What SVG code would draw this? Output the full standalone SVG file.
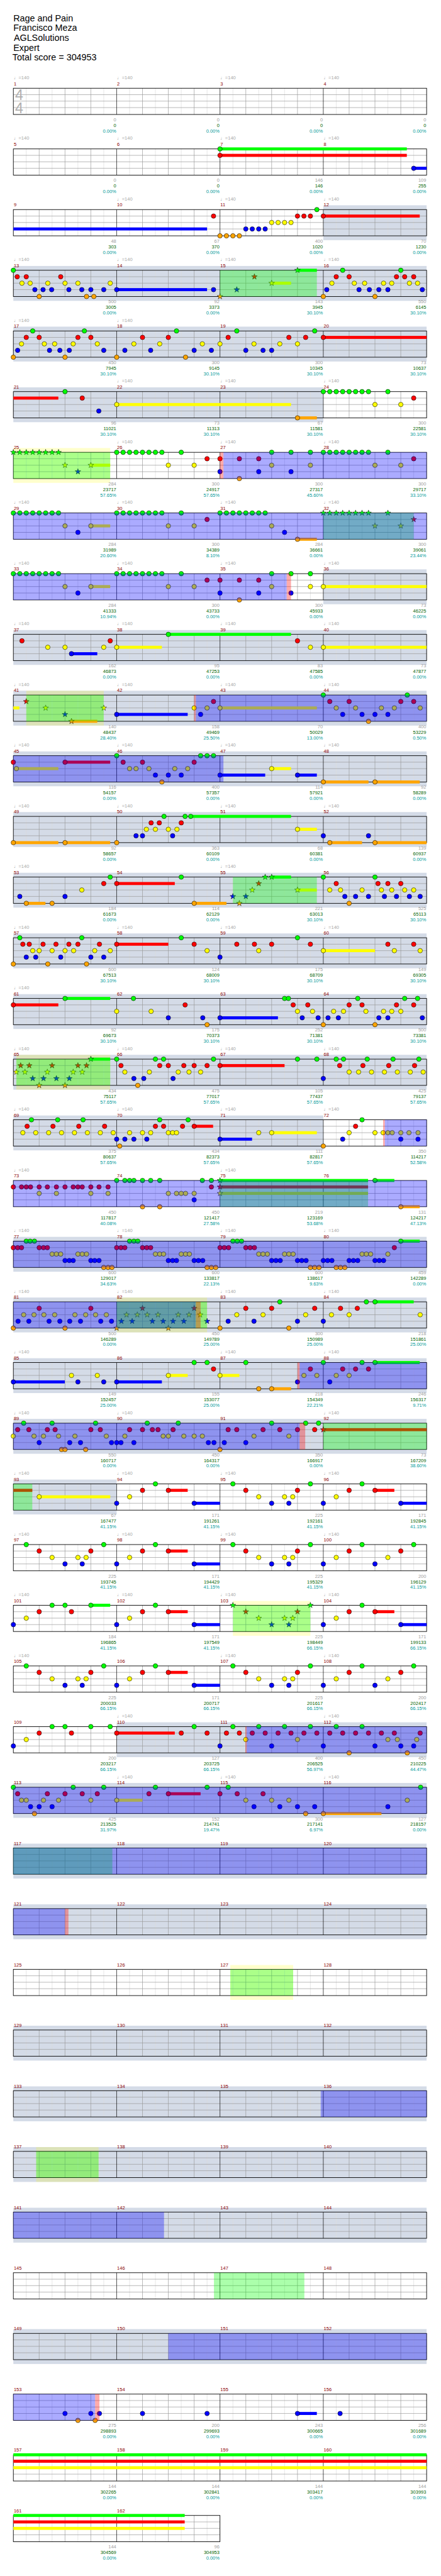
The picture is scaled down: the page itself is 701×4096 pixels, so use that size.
<svg xmlns="http://www.w3.org/2000/svg" width="701" height="4096" viewBox="0 0 701 4096">
<style>
text{font-family:"Liberation Sans","DejaVu Sans",Arial,sans-serif;font-size:11px}
.ti{font-size:21px;fill:#000}
.mn{fill:#8b0000}
.tp{fill:#a8a8a8}
.v{fill:#a0a0a0;text-anchor:end}
.s{fill:#006400;text-anchor:end}
.p{fill:#009a9a;text-anchor:end}
.ts{font-size:34px;fill:#b0b0b0}
.gr{fill:#d4dbe7}
.yl{fill:#ffff00;opacity:.2}
.og{fill:#00ff00;opacity:.33}
.ob{fill:#0000ff;opacity:.33}
.op{fill:#ff0000;opacity:.33}
.fG{fill:#00ff00}.fR{fill:#ff0000}.fY{fill:#ffff00}.fB{fill:#0000ff}.fO{fill:#ffa500}
</style>
<defs>
<circle id="G" r="5.3" cy="0" fill="#00ff00" stroke="#000" stroke-width="0.8"/>
<circle id="R" r="5.3" cy="15" fill="#ff0000" stroke="#000" stroke-width="0.8"/>
<circle id="Y" r="5.3" cy="30" fill="#ffff00" stroke="#000" stroke-width="0.8"/>
<circle id="B" r="5.3" cy="45" fill="#0000ff" stroke="#000" stroke-width="0.8"/>
<circle id="O" r="5.3" cy="61" fill="#ffa500" stroke="#000" stroke-width="0.8"/>
<polygon id="sG" transform="translate(0,0)" points="0,-7 1.65,-2.27 6.66,-2.16 2.66,0.87 4.11,5.66 0,2.8 -4.11,5.66 -2.66,0.87 -6.66,-2.16 -1.65,-2.27" fill="#00ff00" stroke="#000" stroke-width="0.7"/>
<polygon id="sR" transform="translate(0,15)" points="0,-7 1.65,-2.27 6.66,-2.16 2.66,0.87 4.11,5.66 0,2.8 -4.11,5.66 -2.66,0.87 -6.66,-2.16 -1.65,-2.27" fill="#ff0000" stroke="#000" stroke-width="0.7"/>
<polygon id="sY" transform="translate(0,30)" points="0,-7 1.65,-2.27 6.66,-2.16 2.66,0.87 4.11,5.66 0,2.8 -4.11,5.66 -2.66,0.87 -6.66,-2.16 -1.65,-2.27" fill="#ffff00" stroke="#000" stroke-width="0.7"/>
<polygon id="sB" transform="translate(0,45)" points="0,-7 1.65,-2.27 6.66,-2.16 2.66,0.87 4.11,5.66 0,2.8 -4.11,5.66 -2.66,0.87 -6.66,-2.16 -1.65,-2.27" fill="#0000ff" stroke="#000" stroke-width="0.7"/>
<polygon id="sO" transform="translate(0,61)" points="0,-7 1.65,-2.27 6.66,-2.16 2.66,0.87 4.11,5.66 0,2.8 -4.11,5.66 -2.66,0.87 -6.66,-2.16 -1.65,-2.27" fill="#ffa500" stroke="#000" stroke-width="0.7"/>
<g id="grid4" fill="none">
<path d="M30 0V61M90 0V61M150 0V61M210 0V61M270 0V61M330 0V61M390 0V61M450 0V61M510 0V61M570 0V61M630 0V61M690 0V61M750 0V61M810 0V61M870 0V61M930 0V61" stroke="#dcdcdc"/>
<path d="M0 15H960M0 30H960M0 45H960M60 0V61M120 0V61M180 0V61M300 0V61M360 0V61M420 0V61M540 0V61M600 0V61M660 0V61M780 0V61M840 0V61M900 0V61" stroke="#999"/>
<path d="M240 0V61M480 0V61M720 0V61" stroke="#000"/>
<rect width="960" height="61" stroke="#000" stroke-width="1.3"/>
</g>
<g id="grid2" fill="none">
<path d="M30 0V61M90 0V61M150 0V61M210 0V61M270 0V61M330 0V61M390 0V61M450 0V61" stroke="#dcdcdc"/>
<path d="M0 15H480M0 30H480M0 45H480M60 0V61M120 0V61M180 0V61M300 0V61M360 0V61M420 0V61" stroke="#999"/>
<path d="M240 0V61" stroke="#000"/>
<rect width="480" height="61" stroke="#000" stroke-width="1.3"/>
</g>
</defs>
<rect width="701" height="4096" fill="#fff"/>
<g transform="scale(0.6843)">
<g id="header">
<text class="ti" x="31" y="49">Rage and Pain</text>
<text class="ti" x="31" y="72">Francisco Meza</text>
<text class="ti" x="32" y="95">AGLSolutions</text>
<text class="ti" x="31" y="118">Expert</text>
<text class="ti" x="29" y="141">Total score = 304953</text>
</g>

<g id="row00" transform="translate(31,205)">
<use href="#grid4"/>
<text class="ts" x="4" y="28">4</text><text class="ts" x="4" y="58">4</text>
<text class="tp" x="1" y="-21">♩=140</text><text class="tp" x="241" y="-21">♩=140</text><text class="tp" x="481" y="-21">♩=140</text><text class="tp" x="721" y="-21">♩=140</text>
<text class="mn" x="1" y="-7">1</text><text class="mn" x="241" y="-7">2</text><text class="mn" x="481" y="-7">3</text><text class="mn" x="721" y="-7">4</text>
<text class="v" x="239" y="77">0</text><text class="s" x="239" y="90">0</text><text class="p" x="239" y="103">0.00%</text>
<text class="v" x="479" y="77">0</text><text class="s" x="479" y="90">0</text><text class="p" x="479" y="103">0.00%</text>
<text class="v" x="719" y="77">0</text><text class="s" x="719" y="90">0</text><text class="p" x="719" y="103">0.00%</text>
<text class="v" x="959" y="77">0</text><text class="s" x="959" y="90">0</text><text class="p" x="959" y="103">0.00%</text>
</g>

<g id="row01" transform="translate(31,346)">
<use href="#grid4"/>
<rect class="fG" x="480" y="-3.5" width="434" height="7"/><rect class="fR" x="480" y="11.5" width="434" height="7"/><rect class="fB" x="930" y="41.5" width="30" height="7"/>
<use href="#G" x="480"/><use href="#R" x="480"/><use href="#B" x="930"/>
<text class="tp" x="1" y="-21">♩=140</text><text class="tp" x="241" y="-21">♩=140</text><text class="tp" x="481" y="-21">♩=140</text><text class="tp" x="721" y="-21">♩=140</text>
<text class="mn" x="1" y="-7">5</text><text class="mn" x="241" y="-7">6</text><text class="mn" x="481" y="-7">7</text><text class="mn" x="721" y="-7">8</text>
<text class="v" x="239" y="77">0</text><text class="s" x="239" y="90">0</text><text class="p" x="239" y="103">0.00%</text>
<text class="v" x="479" y="77">0</text><text class="s" x="479" y="90">0</text><text class="p" x="479" y="103">0.00%</text>
<text class="v" x="719" y="77">146</text><text class="s" x="719" y="90">146</text><text class="p" x="719" y="103">0.00%</text>
<text class="v" x="959" y="77">109</text><text class="s" x="959" y="90">255</text><text class="p" x="959" y="103">0.00%</text>
</g>

<g id="row02" transform="translate(31,487)">
<rect class="gr" x="720" y="-10" width="240" height="81"/>
<use href="#grid4"/>
<rect class="fB" x="0" y="41.5" width="450" height="7"/><rect class="fR" x="720" y="11.5" width="224" height="7"/>
<use href="#R" x="465"/><use href="#O" x="480"/><use href="#O" x="495"/><use href="#O" x="510"/><use href="#O" x="525"/><use href="#B" x="540"/><use href="#B" x="555"/><use href="#B" x="570"/><use href="#B" x="585"/><use href="#Y" x="600"/><use href="#Y" x="615"/><use href="#Y" x="630"/><use href="#Y" x="645"/><use href="#R" x="660"/><use href="#R" x="675"/><use href="#R" x="690"/><use href="#G" x="705"/><use href="#R" x="720"/>
<text class="tp" x="241" y="-21">♩=140</text><text class="tp" x="481" y="-21">♩=140</text><text class="tp" x="721" y="-21">♩=140</text>
<text class="mn" x="1" y="-7">9</text><text class="mn" x="241" y="-7">10</text><text class="mn" x="481" y="-7">11</text><text class="mn" x="721" y="-7">12</text>
<text class="v" x="239" y="77">48</text><text class="s" x="239" y="90">303</text><text class="p" x="239" y="103">0.00%</text>
<text class="v" x="479" y="77">67</text><text class="s" x="479" y="90">370</text><text class="p" x="479" y="103">0.00%</text>
<text class="v" x="719" y="77">400</text><text class="s" x="719" y="90">1020</text><text class="p" x="719" y="103">0.00%</text>
<text class="v" x="959" y="77">70</text><text class="s" x="959" y="90">1230</text><text class="p" x="959" y="103">0.00%</text>
</g>

<g id="row03" transform="translate(31,628)">
<rect class="gr" x="0" y="-10" width="960" height="81"/>
<use href="#grid4"/>
<rect class="fB" x="240" y="41.5" width="210" height="7"/><rect class="fY" x="600" y="26.5" width="45" height="7"/><rect class="fG" x="660" y="-3.5" width="45" height="7"/>
<use href="#G" x="0"/><use href="#R" x="9"/><use href="#Y" x="20"/><use href="#R" x="30"/><use href="#Y" x="39"/><use href="#B" x="50"/><use href="#O" x="60"/><use href="#B" x="69"/><use href="#Y" x="80"/><use href="#B" x="89"/><use href="#R" x="110"/><use href="#Y" x="120"/><use href="#B" x="129"/><use href="#Y" x="150"/><use href="#B" x="159"/><use href="#O" x="170"/><use href="#B" x="180"/><use href="#O" x="187"/><use href="#B" x="210"/><use href="#Y" x="225"/><use href="#B" x="240"/><use href="#B" x="465"/>
<use href="#sO" x="480"/><use href="#sB" x="519"/><use href="#sR" x="560"/><use href="#sY" x="600"/><use href="#sG" x="660"/>
<use href="#O" x="720"/><use href="#B" x="728"/><use href="#Y" x="740"/><use href="#R" x="750"/><use href="#G" x="765"/><use href="#R" x="780"/><use href="#Y" x="792"/><use href="#B" x="803"/><use href="#Y" x="816"/><use href="#B" x="827"/><use href="#O" x="840"/><use href="#B" x="849"/><use href="#Y" x="860"/><use href="#B" x="870"/><use href="#Y" x="879"/><use href="#R" x="890"/><use href="#G" x="900"/><use href="#R" x="909"/><use href="#Y" x="920"/><use href="#R" x="930"/><use href="#Y" x="939"/><use href="#B" x="950"/>
<rect class="og" x="480" y="0" width="225" height="61"/>
<text class="tp" x="1" y="-21">♩=140</text><text class="tp" x="241" y="-21">♩=140</text><text class="tp" x="481" y="-21">♩=140</text><text class="tp" x="721" y="-21">♩=140</text>
<text class="mn" x="1" y="-7">13</text><text class="mn" x="241" y="-7">14</text><text class="mn" x="481" y="-7">15</text><text class="mn" x="721" y="-7">16</text>
<text class="v" x="239" y="77">500</text><text class="s" x="239" y="90">3005</text><text class="p" x="239" y="103">0.00%</text>
<text class="v" x="479" y="77">92</text><text class="s" x="479" y="90">3373</text><text class="p" x="479" y="103">0.00%</text>
<text class="v" x="719" y="77">143</text><text class="s" x="719" y="90">3945</text><text class="p" x="719" y="103">30.10%</text>
<text class="v" x="959" y="77">550</text><text class="s" x="959" y="90">6145</text><text class="p" x="959" y="103">30.10%</text>
</g>

<g id="row04" transform="translate(31,769)">
<rect class="gr" x="0" y="-10" width="960" height="81"/>
<use href="#grid4"/>
<rect class="fR" x="720" y="11.5" width="240" height="7"/>
<use href="#O" x="0"/><use href="#B" x="10"/><use href="#Y" x="19"/><use href="#R" x="30"/><use href="#G" x="45"/><use href="#R" x="60"/><use href="#Y" x="72"/><use href="#B" x="84"/><use href="#Y" x="96"/><use href="#B" x="108"/><use href="#O" x="120"/><use href="#B" x="130"/><use href="#Y" x="139"/><use href="#R" x="150"/><use href="#G" x="165"/><use href="#R" x="180"/><use href="#Y" x="195"/><use href="#B" x="210"/><use href="#O" x="240"/><use href="#B" x="259"/><use href="#Y" x="280"/><use href="#R" x="300"/><use href="#B" x="319"/><use href="#Y" x="340"/><use href="#R" x="360"/><use href="#G" x="379"/><use href="#O" x="400"/><use href="#B" x="420"/><use href="#Y" x="439"/><use href="#B" x="460"/><use href="#Y" x="480"/><use href="#R" x="499"/><use href="#G" x="519"/><use href="#B" x="540"/><use href="#Y" x="559"/><use href="#B" x="580"/><use href="#B" x="600"/><use href="#Y" x="619"/><use href="#R" x="640"/><use href="#Y" x="660"/><use href="#R" x="679"/><use href="#G" x="700"/><use href="#R" x="720"/>
<text class="tp" x="1" y="-21">♩=140</text><text class="tp" x="241" y="-21">♩=140</text>
<text class="mn" x="1" y="-7">17</text><text class="mn" x="241" y="-7">18</text><text class="mn" x="481" y="-7">19</text><text class="mn" x="721" y="-7">20</text>
<text class="v" x="239" y="77">450</text><text class="s" x="239" y="90">7945</text><text class="p" x="239" y="103">30.10%</text>
<text class="v" x="479" y="77">300</text><text class="s" x="479" y="90">9145</text><text class="p" x="479" y="103">30.10%</text>
<text class="v" x="719" y="77">300</text><text class="s" x="719" y="90">10345</text><text class="p" x="719" y="103">30.10%</text>
<text class="v" x="959" y="77">73</text><text class="s" x="959" y="90">10637</text><text class="p" x="959" y="103">30.10%</text>
</g>

<g id="row05" transform="translate(31,910)">
<rect class="gr" x="0" y="-10" width="720" height="81"/>
<use href="#grid4"/>
<rect class="fR" x="0" y="11.5" width="104.5" height="7"/><rect class="fY" x="240" y="26.5" width="405" height="7"/><rect class="fO" x="660" y="57.5" width="45" height="7"/>
<use href="#G" x="120"/><use href="#R" x="160"/><use href="#B" x="198.5"/><use href="#Y" x="240"/><use href="#O" x="660"/><use href="#G" x="720"/><use href="#G" x="735"/><use href="#G" x="750"/><use href="#G" x="765"/><use href="#G" x="780"/><use href="#G" x="795"/><use href="#G" x="810"/><use href="#G" x="825"/><use href="#Y" x="840"/><use href="#G" x="870"/><use href="#Y" x="900"/><use href="#R" x="930"/>
<text class="tp" x="241" y="-21">♩=140</text><text class="tp" x="481" y="-21">♩=140</text><text class="tp" x="721" y="-21">♩=140</text>
<text class="mn" x="1" y="-7">21</text><text class="mn" x="241" y="-7">22</text><text class="mn" x="481" y="-7">23</text><text class="mn" x="721" y="-7">24</text>
<text class="v" x="239" y="77">96</text><text class="s" x="239" y="90">11021</text><text class="p" x="239" y="103">30.10%</text>
<text class="v" x="479" y="77">73</text><text class="s" x="479" y="90">11313</text><text class="p" x="479" y="103">30.10%</text>
<text class="v" x="719" y="77">67</text><text class="s" x="719" y="90">11581</text><text class="p" x="719" y="103">30.10%</text>
<text class="v" x="959" y="77">300</text><text class="s" x="959" y="90">22581</text><text class="p" x="959" y="103">30.10%</text>
</g>

<g id="row06" transform="translate(31,1051)">
<rect class="yl" x="0" y="-10" width="225" height="81"/>
<use href="#grid4"/>
<rect class="fY" x="180" y="26.5" width="45" height="7"/>
<use href="#sG" x="0"/><use href="#sG" x="15"/><use href="#sG" x="30"/><use href="#sG" x="45"/><use href="#sG" x="60"/><use href="#sG" x="75"/><use href="#sG" x="90"/><use href="#sG" x="105"/><use href="#sY" x="120"/><use href="#sB" x="150"/><use href="#sY" x="180"/>
<use href="#G" x="240"/><use href="#G" x="255"/><use href="#G" x="270"/><use href="#G" x="285"/><use href="#G" x="300"/><use href="#G" x="315"/><use href="#G" x="330"/><use href="#G" x="345"/><use href="#Y" x="360"/><use href="#G" x="390"/><use href="#Y" x="420"/><use href="#R" x="450"/><use href="#R" x="480"/><use href="#B" x="480"/><use href="#R" x="525"/><use href="#O" x="525"/><use href="#R" x="570"/><use href="#B" x="570"/><use href="#G" x="600"/><use href="#Y" x="600"/><use href="#G" x="645"/><use href="#B" x="645"/><use href="#G" x="690"/><use href="#Y" x="690"/><use href="#G" x="720"/><use href="#G" x="735"/><use href="#G" x="750"/><use href="#G" x="765"/><use href="#G" x="780"/><use href="#G" x="795"/><use href="#G" x="810"/><use href="#G" x="825"/><use href="#Y" x="840"/><use href="#G" x="870"/><use href="#Y" x="900"/><use href="#R" x="930"/>
<rect class="og" x="0" y="0" width="225" height="61"/><rect class="op" x="480" y="0" width="8" height="61"/><rect class="ob" x="488" y="0" width="472" height="61"/>
<text class="tp" x="241" y="-21">♩=140</text><text class="tp" x="481" y="-21">♩=140</text><text class="tp" x="721" y="-21">♩=140</text>
<text class="mn" x="1" y="-7">25</text><text class="mn" x="241" y="-7">26</text><text class="mn" x="481" y="-7">27</text><text class="mn" x="721" y="-7">28</text>
<text class="v" x="239" y="77">284</text><text class="s" x="239" y="90">23717</text><text class="p" x="239" y="103">57.65%</text>
<text class="v" x="479" y="77">300</text><text class="s" x="479" y="90">24917</text><text class="p" x="479" y="103">57.65%</text>
<text class="v" x="719" y="77">300</text><text class="s" x="719" y="90">27317</text><text class="p" x="719" y="103">45.60%</text>
<text class="v" x="959" y="77">300</text><text class="s" x="959" y="90">29717</text><text class="p" x="959" y="103">33.10%</text>
</g>

<g id="row07" transform="translate(31,1192)">
<use href="#grid4"/>
<rect class="fY" x="180" y="26.5" width="45" height="7"/><rect class="fO" x="660" y="57.5" width="45" height="7"/>
<use href="#G" x="0"/><use href="#G" x="15"/><use href="#G" x="30"/><use href="#G" x="45"/><use href="#G" x="60"/><use href="#G" x="75"/><use href="#G" x="90"/><use href="#G" x="105"/><use href="#Y" x="120"/><use href="#B" x="150"/><use href="#Y" x="180"/><use href="#G" x="240"/><use href="#G" x="255"/><use href="#G" x="270"/><use href="#G" x="285"/><use href="#G" x="300"/><use href="#G" x="315"/><use href="#G" x="330"/><use href="#G" x="345"/><use href="#Y" x="360"/><use href="#G" x="390"/><use href="#Y" x="420"/><use href="#R" x="450"/><use href="#G" x="480"/><use href="#G" x="495"/><use href="#G" x="510"/><use href="#G" x="525"/><use href="#G" x="540"/><use href="#G" x="555"/><use href="#G" x="570"/><use href="#G" x="585"/><use href="#Y" x="600"/><use href="#B" x="630"/><use href="#O" x="660"/>
<use href="#sG" x="720"/><use href="#sG" x="735"/><use href="#sG" x="750"/><use href="#sG" x="765"/><use href="#sG" x="780"/><use href="#sG" x="795"/><use href="#sG" x="810"/><use href="#sG" x="825"/><use href="#sY" x="840"/><use href="#sG" x="870"/><use href="#sY" x="900"/><use href="#sR" x="930"/>
<rect class="og" x="720" y="0" width="210" height="61"/><rect class="ob" x="0" y="0" width="960" height="61"/>
<text class="tp" x="1" y="-21">♩=140</text><text class="tp" x="241" y="-21">♩=140</text><text class="tp" x="481" y="-21">♩=140</text><text class="tp" x="721" y="-21">♩=140</text>
<text class="mn" x="1" y="-7">29</text><text class="mn" x="241" y="-7">30</text><text class="mn" x="481" y="-7">31</text><text class="mn" x="721" y="-7">32</text>
<text class="v" x="239" y="77">284</text><text class="s" x="239" y="90">31989</text><text class="p" x="239" y="103">20.60%</text>
<text class="v" x="479" y="77">300</text><text class="s" x="479" y="90">34389</text><text class="p" x="479" y="103">8.10%</text>
<text class="v" x="719" y="77">284</text><text class="s" x="719" y="90">36661</text><text class="p" x="719" y="103">0.00%</text>
<text class="v" x="959" y="77">300</text><text class="s" x="959" y="90">39061</text><text class="p" x="959" y="103">23.44%</text>
</g>

<g id="row08" transform="translate(31,1333)">
<rect class="gr" x="720" y="-10" width="240" height="81"/>
<use href="#grid4"/>
<rect class="fY" x="180" y="26.5" width="45" height="7"/><rect class="fY" x="720" y="26.5" width="240" height="7"/>
<use href="#G" x="0"/><use href="#G" x="15"/><use href="#G" x="30"/><use href="#G" x="45"/><use href="#G" x="60"/><use href="#G" x="75"/><use href="#G" x="90"/><use href="#G" x="105"/><use href="#Y" x="120"/><use href="#B" x="150"/><use href="#Y" x="180"/><use href="#G" x="240"/><use href="#G" x="255"/><use href="#G" x="270"/><use href="#G" x="285"/><use href="#G" x="300"/><use href="#G" x="315"/><use href="#G" x="330"/><use href="#G" x="345"/><use href="#Y" x="360"/><use href="#G" x="390"/><use href="#Y" x="420"/><use href="#R" x="450"/><use href="#R" x="480"/><use href="#B" x="480"/><use href="#R" x="525"/><use href="#O" x="525"/><use href="#R" x="570"/><use href="#B" x="570"/><use href="#G" x="600"/><use href="#Y" x="600"/><use href="#G" x="645"/><use href="#B" x="645"/><use href="#G" x="690"/><use href="#Y" x="690"/><use href="#Y" x="720"/>
<rect class="ob" x="0" y="0" width="635" height="61"/><rect class="op" x="635" y="0" width="10" height="61"/>
<text class="tp" x="1" y="-21">♩=140</text><text class="tp" x="241" y="-21">♩=140</text><text class="tp" x="481" y="-21">♩=140</text><text class="tp" x="721" y="-21">♩=140</text>
<text class="mn" x="1" y="-7">33</text><text class="mn" x="241" y="-7">34</text><text class="mn" x="481" y="-7">35</text><text class="mn" x="721" y="-7">36</text>
<text class="v" x="239" y="77">284</text><text class="s" x="239" y="90">41333</text><text class="p" x="239" y="103">10.94%</text>
<text class="v" x="479" y="77">300</text><text class="s" x="479" y="90">43733</text><text class="p" x="479" y="103">0.00%</text>
<text class="v" x="719" y="77">300</text><text class="s" x="719" y="90">45933</text><text class="p" x="719" y="103">0.00%</text>
<text class="v" x="959" y="77">73</text><text class="s" x="959" y="90">46225</text><text class="p" x="959" y="103">0.00%</text>
</g>

<g id="row09" transform="translate(31,1474)">
<rect class="gr" x="0" y="-10" width="960" height="81"/>
<use href="#grid4"/>
<rect class="fB" x="135" y="41.5" width="60" height="7"/><rect class="fY" x="240" y="26.5" width="105" height="7"/><rect class="fG" x="360" y="-3.5" width="285" height="7"/><rect class="fY" x="720" y="26.5" width="240" height="7"/>
<use href="#R" x="20"/><use href="#Y" x="80"/><use href="#Y" x="120"/><use href="#B" x="135"/><use href="#Y" x="210"/><use href="#R" x="225"/><use href="#Y" x="240"/><use href="#G" x="360"/><use href="#R" x="660"/><use href="#Y" x="690"/><use href="#Y" x="720"/>
<text class="tp" x="1" y="-21">♩=140</text><text class="tp" x="241" y="-21">♩=140</text><text class="tp" x="481" y="-21">♩=140</text><text class="tp" x="721" y="-21">♩=140</text>
<text class="mn" x="1" y="-7">37</text><text class="mn" x="241" y="-7">38</text><text class="mn" x="481" y="-7">39</text><text class="mn" x="721" y="-7">40</text>
<text class="v" x="239" y="77">162</text><text class="s" x="239" y="90">46873</text><text class="p" x="239" y="103">0.00%</text>
<text class="v" x="479" y="77">95</text><text class="s" x="479" y="90">47253</text><text class="p" x="479" y="103">0.00%</text>
<text class="v" x="719" y="77">83</text><text class="s" x="719" y="90">47585</text><text class="p" x="719" y="103">0.00%</text>
<text class="v" x="959" y="77">73</text><text class="s" x="959" y="90">47877</text><text class="p" x="959" y="103">0.00%</text>
</g>

<g id="row10" transform="translate(31,1615)">
<rect class="gr" x="0" y="-10" width="960" height="81"/><rect class="yl" x="30" y="-10" width="180" height="81"/>
<use href="#grid4"/>
<rect class="fY" x="0" y="26.5" width="14" height="7"/><rect class="fO" x="135" y="57.5" width="60" height="7"/><rect class="fB" x="240" y="41.5" width="165" height="7"/><rect class="fY" x="480" y="26.5" width="225" height="7"/>
<use href="#sR" x="30"/><use href="#sY" x="75"/><use href="#sB" x="120"/><use href="#sO" x="135"/><use href="#sY" x="210"/>
<use href="#B" x="240"/><use href="#Y" x="420"/><use href="#B" x="435"/><use href="#Y" x="450"/><use href="#R" x="465"/><use href="#Y" x="480"/><use href="#G" x="720"/><use href="#R" x="735"/><use href="#Y" x="750"/><use href="#B" x="765"/><use href="#R" x="780"/><use href="#Y" x="795"/><use href="#B" x="810"/><use href="#O" x="825"/><use href="#B" x="840"/><use href="#Y" x="855"/><use href="#B" x="870"/><use href="#Y" x="885"/><use href="#R" x="900"/><use href="#G" x="915"/><use href="#R" x="930"/><use href="#Y" x="945"/>
<rect class="og" x="30" y="0" width="180" height="61"/><rect class="op" x="420" y="0" width="4" height="61"/><rect class="ob" x="424" y="0" width="536" height="61"/>
<text class="tp" x="1" y="-21">♩=140</text><text class="tp" x="241" y="-21">♩=140</text><text class="tp" x="481" y="-21">♩=140</text><text class="tp" x="721" y="-21">♩=140</text>
<text class="mn" x="1" y="-7">41</text><text class="mn" x="241" y="-7">42</text><text class="mn" x="481" y="-7">43</text><text class="mn" x="721" y="-7">44</text>
<text class="v" x="239" y="77">140</text><text class="s" x="239" y="90">48437</text><text class="p" x="239" y="103">28.40%</text>
<text class="v" x="479" y="77">158</text><text class="s" x="479" y="90">49469</text><text class="p" x="479" y="103">25.50%</text>
<text class="v" x="719" y="77">70</text><text class="s" x="719" y="90">50029</text><text class="p" x="719" y="103">13.00%</text>
<text class="v" x="959" y="77">400</text><text class="s" x="959" y="90">53229</text><text class="p" x="959" y="103">0.50%</text>
</g>

<g id="row11" transform="translate(31,1756)">
<rect class="gr" x="0" y="-10" width="960" height="81"/>
<use href="#grid4"/>
<rect class="fY" x="7" y="26.5" width="97.5" height="7"/><rect class="fR" x="120" y="11.5" width="105" height="7"/><rect class="fB" x="480" y="41.5" width="105" height="7"/><rect class="fY" x="600" y="26.5" width="45" height="7"/><rect class="fB" x="660" y="41.5" width="45" height="7"/><rect class="fO" x="720" y="57.5" width="105" height="7"/><rect class="fO" x="840" y="57.5" width="104" height="7"/>
<use href="#R" x="0"/><use href="#Y" x="7"/><use href="#R" x="120"/><use href="#G" x="240"/><use href="#R" x="255"/><use href="#Y" x="270"/><use href="#Y" x="285"/><use href="#R" x="300"/><use href="#Y" x="315"/><use href="#B" x="330"/><use href="#O" x="345"/><use href="#B" x="360"/><use href="#Y" x="375"/><use href="#B" x="390"/><use href="#Y" x="405"/><use href="#R" x="420"/><use href="#G" x="435"/><use href="#G" x="450"/><use href="#G" x="465"/><use href="#B" x="480"/><use href="#Y" x="600"/><use href="#B" x="660"/><use href="#O" x="720"/><use href="#O" x="840"/>
<rect class="ob" x="0" y="0" width="488" height="61"/>
<text class="tp" x="1" y="-21">♩=140</text><text class="tp" x="241" y="-21">♩=140</text><text class="tp" x="481" y="-21">♩=140</text><text class="tp" x="721" y="-21">♩=140</text>
<text class="mn" x="1" y="-7">45</text><text class="mn" x="241" y="-7">46</text><text class="mn" x="481" y="-7">47</text><text class="mn" x="721" y="-7">48</text>
<text class="v" x="239" y="77">116</text><text class="s" x="239" y="90">54157</text><text class="p" x="239" y="103">0.00%</text>
<text class="v" x="479" y="77">400</text><text class="s" x="479" y="90">57357</text><text class="p" x="479" y="103">0.00%</text>
<text class="v" x="719" y="77">114</text><text class="s" x="719" y="90">57921</text><text class="p" x="719" y="103">0.00%</text>
<text class="v" x="959" y="77">92</text><text class="s" x="959" y="90">58289</text><text class="p" x="959" y="103">0.00%</text>
</g>

<g id="row12" transform="translate(31,1897)">
<rect class="gr" x="0" y="-10" width="960" height="81"/>
<use href="#grid4"/>
<rect class="fO" x="0" y="57.5" width="104.5" height="7"/><rect class="fO" x="120" y="57.5" width="105" height="7"/><rect class="fG" x="412" y="-3.5" width="233" height="7"/><rect class="fY" x="660" y="26.5" width="45" height="7"/><rect class="fO" x="735" y="57.5" width="75" height="7"/><rect class="fO" x="840" y="57.5" width="120" height="7"/>
<use href="#O" x="0"/><use href="#O" x="120"/><use href="#O" x="240"/><use href="#B" x="285"/><use href="#B" x="300"/><use href="#Y" x="309"/><use href="#R" x="320"/><use href="#Y" x="330"/><use href="#R" x="339"/><use href="#G" x="350"/><use href="#Y" x="360"/><use href="#B" x="370"/><use href="#Y" x="380"/><use href="#R" x="390"/><use href="#G" x="399"/><use href="#G" x="412"/><use href="#Y" x="660"/><use href="#B" x="720"/><use href="#O" x="735"/><use href="#B" x="825"/><use href="#O" x="840"/>
<text class="tp" x="1" y="-21">♩=140</text><text class="tp" x="241" y="-21">♩=140</text><text class="tp" x="481" y="-21">♩=140</text><text class="tp" x="721" y="-21">♩=140</text>
<text class="mn" x="1" y="-7">49</text><text class="mn" x="241" y="-7">50</text><text class="mn" x="481" y="-7">51</text><text class="mn" x="721" y="-7">52</text>
<text class="v" x="239" y="77">92</text><text class="s" x="239" y="90">58657</text><text class="p" x="239" y="103">0.00%</text>
<text class="v" x="479" y="77">363</text><text class="s" x="479" y="90">60109</text><text class="p" x="479" y="103">0.00%</text>
<text class="v" x="719" y="77">68</text><text class="s" x="719" y="90">60381</text><text class="p" x="719" y="103">0.00%</text>
<text class="v" x="959" y="77">139</text><text class="s" x="959" y="90">60937</text><text class="p" x="959" y="103">0.00%</text>
</g>

<g id="row13" transform="translate(31,2038)">
<rect class="gr" x="0" y="-10" width="960" height="81"/>
<use href="#grid4"/>
<rect class="fO" x="30" y="57.5" width="44.5" height="7"/><rect class="fR" x="240" y="11.5" width="135" height="7"/><rect class="fO" x="420" y="57.5" width="75" height="7"/><rect class="fG" x="600" y="-3.5" width="45" height="7"/><rect class="fY" x="660" y="26.5" width="45" height="7"/>
<use href="#B" x="15"/><use href="#O" x="30"/><use href="#O" x="90"/><use href="#B" x="120"/><use href="#Y" x="159"/><use href="#R" x="210"/><use href="#G" x="225"/><use href="#R" x="240"/><use href="#G" x="390"/><use href="#O" x="420"/>
<use href="#sB" x="510"/><use href="#sO" x="525"/><use href="#sB" x="540"/><use href="#sY" x="555"/><use href="#sR" x="570"/><use href="#sG" x="585"/><use href="#sG" x="600"/><use href="#sY" x="660"/>
<use href="#G" x="720"/><use href="#Y" x="735"/><use href="#R" x="750"/><use href="#Y" x="760"/><use href="#B" x="770"/><use href="#O" x="780"/><use href="#B" x="795"/><use href="#Y" x="810"/><use href="#B" x="825"/><use href="#G" x="840"/><use href="#R" x="847"/><use href="#Y" x="855"/><use href="#B" x="862"/><use href="#R" x="870"/><use href="#Y" x="879"/><use href="#B" x="890"/><use href="#R" x="900"/><use href="#Y" x="909"/><use href="#B" x="920"/><use href="#Y" x="930"/><use href="#B" x="945"/>
<rect class="og" x="510" y="0" width="195" height="61"/>
<text class="tp" x="1" y="-21">♩=140</text><text class="tp" x="481" y="-21">♩=140</text>
<text class="mn" x="1" y="-7">53</text><text class="mn" x="241" y="-7">54</text><text class="mn" x="481" y="-7">55</text><text class="mn" x="721" y="-7">56</text>
<text class="v" x="239" y="77">184</text><text class="s" x="239" y="90">61673</text><text class="p" x="239" y="103">0.00%</text>
<text class="v" x="479" y="77">114</text><text class="s" x="479" y="90">62129</text><text class="p" x="479" y="103">0.00%</text>
<text class="v" x="719" y="77">221</text><text class="s" x="719" y="90">63013</text><text class="p" x="719" y="103">30.10%</text>
<text class="v" x="959" y="77">525</text><text class="s" x="959" y="90">65113</text><text class="p" x="959" y="103">30.10%</text>
</g>

<g id="row14" transform="translate(31,2179)">
<rect class="gr" x="0" y="-10" width="960" height="81"/>
<use href="#grid4"/>
<rect class="fR" x="240" y="11.5" width="120" height="7"/><rect class="fY" x="720" y="26.5" width="120" height="7"/>
<use href="#O" x="0"/><use href="#G" x="15"/><use href="#R" x="22"/><use href="#B" x="30"/><use href="#R" x="37"/><use href="#Y" x="45"/><use href="#B" x="52"/><use href="#Y" x="60"/><use href="#R" x="69"/><use href="#O" x="80"/><use href="#Y" x="90"/><use href="#R" x="99"/><use href="#B" x="110"/><use href="#Y" x="120"/><use href="#R" x="129"/><use href="#Y" x="140"/><use href="#R" x="150"/><use href="#G" x="159"/><use href="#O" x="170"/><use href="#B" x="180"/><use href="#Y" x="189"/><use href="#R" x="200"/><use href="#B" x="210"/><use href="#Y" x="225"/><use href="#R" x="240"/><use href="#G" x="390"/><use href="#R" x="420"/><use href="#Y" x="450"/><use href="#B" x="480"/><use href="#R" x="519"/><use href="#R" x="560"/><use href="#Y" x="570"/><use href="#R" x="600"/><use href="#G" x="660"/><use href="#R" x="690"/><use href="#Y" x="720"/><use href="#R" x="870"/><use href="#Y" x="885"/><use href="#R" x="930"/><use href="#Y" x="945"/>
<text class="tp" x="1" y="-21">♩=140</text><text class="tp" x="241" y="-21">♩=140</text><text class="tp" x="481" y="-21">♩=140</text><text class="tp" x="721" y="-21">♩=140</text>
<text class="mn" x="1" y="-7">57</text><text class="mn" x="241" y="-7">58</text><text class="mn" x="481" y="-7">59</text><text class="mn" x="721" y="-7">60</text>
<text class="v" x="239" y="77">600</text><text class="s" x="239" y="90">67513</text><text class="p" x="239" y="103">30.10%</text>
<text class="v" x="479" y="77">124</text><text class="s" x="479" y="90">68009</text><text class="p" x="479" y="103">30.10%</text>
<text class="v" x="719" y="77">175</text><text class="s" x="719" y="90">68709</text><text class="p" x="719" y="103">30.10%</text>
<text class="v" x="959" y="77">149</text><text class="s" x="959" y="90">69305</text><text class="p" x="959" y="103">30.10%</text>
</g>

<g id="row15" transform="translate(31,2320)">
<rect class="gr" x="0" y="-10" width="960" height="81"/>
<use href="#grid4"/>
<rect class="fR" x="0" y="11.5" width="104.5" height="7"/><rect class="fG" x="120" y="-3.5" width="105" height="7"/><rect class="fB" x="480" y="41.5" width="134.6" height="7"/>
<use href="#R" x="0"/><use href="#G" x="120"/><use href="#Y" x="240"/><use href="#G" x="279"/><use href="#Y" x="320"/><use href="#B" x="360"/><use href="#R" x="399"/><use href="#B" x="440"/><use href="#O" x="450"/><use href="#B" x="480"/><use href="#G" x="630"/><use href="#G" x="639"/><use href="#R" x="650"/><use href="#Y" x="660"/><use href="#B" x="671"/><use href="#R" x="684"/><use href="#Y" x="695"/><use href="#B" x="708"/><use href="#O" x="720"/><use href="#B" x="731"/><use href="#Y" x="744"/><use href="#B" x="755"/><use href="#Y" x="767"/><use href="#R" x="780"/><use href="#G" x="800"/><use href="#R" x="810"/><use href="#Y" x="819"/><use href="#O" x="840"/><use href="#B" x="849"/><use href="#Y" x="860"/><use href="#B" x="870"/><use href="#Y" x="879"/><use href="#R" x="890"/><use href="#Y" x="900"/><use href="#G" x="909"/><use href="#R" x="930"/><use href="#G" x="939"/><use href="#B" x="950"/>
<text class="tp" x="1" y="-21">♩=140</text>
<text class="mn" x="1" y="-7">61</text><text class="mn" x="241" y="-7">62</text><text class="mn" x="481" y="-7">63</text><text class="mn" x="721" y="-7">64</text>
<text class="v" x="239" y="77">92</text><text class="s" x="239" y="90">69673</text><text class="p" x="239" y="103">30.10%</text>
<text class="v" x="479" y="77">175</text><text class="s" x="479" y="90">70373</text><text class="p" x="479" y="103">30.10%</text>
<text class="v" x="719" y="77">252</text><text class="s" x="719" y="90">71381</text><text class="p" x="719" y="103">30.10%</text>
<text class="v" x="959" y="77">500</text><text class="s" x="959" y="90">73381</text><text class="p" x="959" y="103">30.10%</text>
</g>

<g id="row16" transform="translate(31,2461)">
<rect class="gr" x="0" y="-10" width="960" height="81"/><rect class="yl" x="7" y="-10" width="218" height="81"/>
<use href="#grid4"/>
<rect class="fG" x="180" y="-3.5" width="45" height="7"/><rect class="fR" x="480" y="11.5" width="150" height="7"/>
<use href="#sY" x="7"/><use href="#sR" x="17"/><use href="#sY" x="27"/><use href="#sR" x="37"/><use href="#sB" x="45"/><use href="#sO" x="60"/><use href="#sB" x="70"/><use href="#sY" x="79"/><use href="#sR" x="90"/><use href="#sB" x="100"/><use href="#sO" x="120"/><use href="#sB" x="130"/><use href="#sY" x="139"/><use href="#sR" x="150"/><use href="#sY" x="160"/><use href="#sR" x="170"/><use href="#sG" x="180"/>
<use href="#G" x="240"/><use href="#R" x="250"/><use href="#Y" x="259"/><use href="#B" x="280"/><use href="#O" x="289"/><use href="#B" x="303"/><use href="#Y" x="316"/><use href="#G" x="330"/><use href="#R" x="340"/><use href="#G" x="349"/><use href="#R" x="360"/><use href="#B" x="371"/><use href="#Y" x="383"/><use href="#R" x="396"/><use href="#Y" x="408"/><use href="#R" x="420"/><use href="#Y" x="435"/><use href="#R" x="450"/><use href="#G" x="465"/><use href="#R" x="480"/><use href="#G" x="660"/><use href="#G" x="705"/><use href="#B" x="720"/><use href="#G" x="750"/><use href="#R" x="758"/><use href="#G" x="767"/><use href="#Y" x="780"/><use href="#Y" x="802"/><use href="#R" x="812"/><use href="#G" x="822"/><use href="#Y" x="832"/><use href="#Y" x="862"/><use href="#R" x="872"/><use href="#G" x="882"/><use href="#Y" x="892"/><use href="#Y" x="922"/><use href="#R" x="932"/><use href="#G" x="942"/><use href="#Y" x="952"/>
<rect class="og" x="7" y="0" width="218" height="61"/>
<text class="tp" x="1" y="-21">♩=140</text><text class="tp" x="241" y="-21">♩=140</text><text class="tp" x="481" y="-21">♩=140</text><text class="tp" x="721" y="-21">♩=140</text>
<text class="mn" x="1" y="-7">65</text><text class="mn" x="241" y="-7">66</text><text class="mn" x="481" y="-7">67</text><text class="mn" x="721" y="-7">68</text>
<text class="v" x="239" y="77">434</text><text class="s" x="239" y="90">75117</text><text class="p" x="239" y="103">57.65%</text>
<text class="v" x="479" y="77">475</text><text class="s" x="479" y="90">77017</text><text class="p" x="479" y="103">57.65%</text>
<text class="v" x="719" y="77">105</text><text class="s" x="719" y="90">77437</text><text class="p" x="719" y="103">57.65%</text>
<text class="v" x="959" y="77">425</text><text class="s" x="959" y="90">79137</text><text class="p" x="959" y="103">57.65%</text>
</g>

<g id="row17" transform="translate(31,2602)">
<rect class="gr" x="0" y="-10" width="720" height="81"/>
<use href="#grid4"/>
<rect class="fR" x="420" y="11.5" width="44" height="7"/><rect class="fB" x="480" y="41.5" width="74.5" height="7"/><rect class="fY" x="600" y="26.5" width="105" height="7"/>
<use href="#Y" x="22"/><use href="#R" x="32"/><use href="#G" x="42"/><use href="#Y" x="52"/><use href="#Y" x="82"/><use href="#R" x="92"/><use href="#G" x="103"/><use href="#Y" x="112"/><use href="#Y" x="142"/><use href="#R" x="152"/><use href="#G" x="162"/><use href="#Y" x="172"/><use href="#Y" x="202"/><use href="#R" x="212"/><use href="#Y" x="232"/><use href="#B" x="240"/><use href="#O" x="247"/><use href="#B" x="259"/><use href="#Y" x="270"/><use href="#B" x="280"/><use href="#Y" x="300"/><use href="#B" x="310"/><use href="#Y" x="319"/><use href="#R" x="330"/><use href="#G" x="340"/><use href="#R" x="349"/><use href="#Y" x="360"/><use href="#Y" x="370"/><use href="#Y" x="379"/><use href="#R" x="393"/><use href="#G" x="406"/><use href="#R" x="420"/><use href="#B" x="480"/><use href="#Y" x="570"/><use href="#Y" x="600"/><use href="#O" x="720"/><use href="#B" x="765"/><use href="#Y" x="780"/><use href="#R" x="795"/><use href="#G" x="810"/><use href="#Y" x="840"/><use href="#Y" x="859"/><use href="#Y" x="870"/><use href="#Y" x="880"/><use href="#Y" x="900"/><use href="#B" x="900"/><use href="#Y" x="919"/><use href="#Y" x="940"/><use href="#B" x="940"/>
<rect class="op" x="859" y="0" width="4" height="61"/><rect class="ob" x="863" y="0" width="97" height="61"/>
<text class="tp" x="1" y="-21">♩=140</text><text class="tp" x="241" y="-21">♩=140</text><text class="tp" x="481" y="-21">♩=140</text><text class="tp" x="721" y="-21">♩=140</text>
<text class="mn" x="1" y="-7">69</text><text class="mn" x="241" y="-7">70</text><text class="mn" x="481" y="-7">71</text><text class="mn" x="721" y="-7">72</text>
<text class="v" x="239" y="77">375</text><text class="s" x="239" y="90">80637</text><text class="p" x="239" y="103">57.65%</text>
<text class="v" x="479" y="77">434</text><text class="s" x="479" y="90">82373</text><text class="p" x="479" y="103">57.65%</text>
<text class="v" x="719" y="77">111</text><text class="s" x="719" y="90">82817</text><text class="p" x="719" y="103">57.65%</text>
<text class="v" x="959" y="77">350</text><text class="s" x="959" y="90">114217</text><text class="p" x="959" y="103">52.58%</text>
</g>

<g id="row18" transform="translate(31,2743)">
<use href="#grid4"/>
<rect class="fG" x="480" y="-3.5" width="344" height="7"/><rect class="fR" x="480" y="11.5" width="344" height="7"/><rect class="fY" x="480" y="26.5" width="344" height="7"/><rect class="fG" x="840" y="-3.5" width="45" height="7"/><rect class="fO" x="900" y="57.5" width="44" height="7"/>
<use href="#R" x="0"/><use href="#R" x="19"/><use href="#R" x="30"/><use href="#R" x="40"/><use href="#R" x="60"/><use href="#Y" x="60"/><use href="#R" x="79"/><use href="#R" x="100"/><use href="#Y" x="100"/><use href="#R" x="120"/><use href="#R" x="139"/><use href="#R" x="150"/><use href="#R" x="160"/><use href="#R" x="180"/><use href="#Y" x="180"/><use href="#R" x="199"/><use href="#R" x="220"/><use href="#Y" x="220"/><use href="#G" x="240"/><use href="#G" x="259"/><use href="#G" x="270"/><use href="#G" x="280"/><use href="#G" x="300"/><use href="#O" x="300"/><use href="#G" x="319"/><use href="#G" x="340"/><use href="#O" x="340"/><use href="#Y" x="360"/><use href="#Y" x="379"/><use href="#Y" x="390"/><use href="#Y" x="400"/><use href="#Y" x="420"/><use href="#B" x="420"/><use href="#G" x="439"/><use href="#G" x="460"/><use href="#R" x="460"/>
<use href="#sG" x="480"/><use href="#sR" x="480"/><use href="#sY" x="480"/><use href="#G" x="840"/><use href="#O" x="900"/>
<rect class="og" x="480" y="0" width="344" height="61"/><rect class="ob" x="0" y="0" width="960" height="61"/>
<text class="tp" x="1" y="-21">♩=140</text><text class="tp" x="481" y="-21">♩=140</text>
<text class="mn" x="1" y="-7">73</text><text class="mn" x="241" y="-7">74</text><text class="mn" x="481" y="-7">75</text><text class="mn" x="721" y="-7">76</text>
<text class="v" x="239" y="77">450</text><text class="s" x="239" y="90">117817</text><text class="p" x="239" y="103">40.08%</text>
<text class="v" x="479" y="77">450</text><text class="s" x="479" y="90">121417</text><text class="p" x="479" y="103">27.58%</text>
<text class="v" x="719" y="77">219</text><text class="s" x="719" y="90">123169</text><text class="p" x="719" y="103">53.68%</text>
<text class="v" x="959" y="77">131</text><text class="s" x="959" y="90">124217</text><text class="p" x="959" y="103">47.13%</text>
</g>

<g id="row19" transform="translate(31,2884)">
<rect class="gr" x="0" y="-10" width="960" height="81"/>
<use href="#grid4"/>
<rect class="fG" x="900" y="-3.5" width="44" height="7"/>
<use href="#R" x="0"/><use href="#R" x="10"/><use href="#R" x="19"/><use href="#G" x="30"/><use href="#G" x="39"/><use href="#G" x="49"/><use href="#R" x="60"/><use href="#R" x="70"/><use href="#R" x="79"/><use href="#Y" x="90"/><use href="#Y" x="100"/><use href="#Y" x="110"/><use href="#B" x="120"/><use href="#B" x="130"/><use href="#B" x="139"/><use href="#Y" x="150"/><use href="#Y" x="160"/><use href="#Y" x="170"/><use href="#B" x="180"/><use href="#B" x="189"/><use href="#B" x="199"/><use href="#O" x="210"/><use href="#O" x="220"/><use href="#O" x="229"/><use href="#R" x="240"/><use href="#R" x="250"/><use href="#R" x="259"/><use href="#G" x="270"/><use href="#G" x="280"/><use href="#G" x="289"/><use href="#R" x="300"/><use href="#R" x="310"/><use href="#R" x="319"/><use href="#Y" x="330"/><use href="#Y" x="340"/><use href="#Y" x="349"/><use href="#B" x="360"/><use href="#B" x="370"/><use href="#B" x="379"/><use href="#Y" x="390"/><use href="#Y" x="400"/><use href="#Y" x="409"/><use href="#B" x="420"/><use href="#B" x="430"/><use href="#B" x="440"/><use href="#O" x="450"/><use href="#O" x="460"/><use href="#O" x="470"/><use href="#R" x="480"/><use href="#R" x="490"/><use href="#R" x="500"/><use href="#G" x="510"/><use href="#G" x="520"/><use href="#G" x="530"/><use href="#R" x="540"/><use href="#R" x="550"/><use href="#R" x="560"/><use href="#Y" x="570"/><use href="#Y" x="580"/><use href="#Y" x="590"/><use href="#B" x="600"/><use href="#B" x="610"/><use href="#B" x="620"/><use href="#Y" x="630"/><use href="#Y" x="640"/><use href="#Y" x="650"/><use href="#B" x="660"/><use href="#B" x="670"/><use href="#B" x="680"/><use href="#O" x="690"/><use href="#O" x="700"/><use href="#O" x="710"/><use href="#B" x="720"/><use href="#B" x="730"/><use href="#B" x="740"/><use href="#O" x="750"/><use href="#O" x="760"/><use href="#O" x="770"/><use href="#B" x="780"/><use href="#B" x="790"/><use href="#B" x="800"/><use href="#Y" x="810"/><use href="#Y" x="820"/><use href="#Y" x="830"/><use href="#B" x="840"/><use href="#B" x="850"/><use href="#B" x="860"/><use href="#Y" x="870"/><use href="#R" x="885"/><use href="#G" x="900"/>
<rect class="ob" x="0" y="0" width="960" height="61"/>
<text class="tp" x="1" y="-21">♩=140</text><text class="tp" x="241" y="-21">♩=140</text><text class="tp" x="481" y="-21">♩=140</text><text class="tp" x="721" y="-21">♩=140</text>
<text class="mn" x="1" y="-7">77</text><text class="mn" x="241" y="-7">78</text><text class="mn" x="481" y="-7">79</text><text class="mn" x="721" y="-7">80</text>
<text class="v" x="239" y="77">600</text><text class="s" x="239" y="90">129017</text><text class="p" x="239" y="103">34.63%</text>
<text class="v" x="479" y="77">600</text><text class="s" x="479" y="90">133817</text><text class="p" x="479" y="103">22.13%</text>
<text class="v" x="719" y="77">600</text><text class="s" x="719" y="90">138617</text><text class="p" x="719" y="103">9.63%</text>
<text class="v" x="959" y="77">459</text><text class="s" x="959" y="90">142289</text><text class="p" x="959" y="103">0.00%</text>
</g>

<g id="row20" transform="translate(31,3025)">
<rect class="gr" x="0" y="-10" width="960" height="81"/><rect class="yl" x="240" y="-10" width="210" height="81"/>
<use href="#grid4"/>
<rect class="fG" x="840" y="-3.5" width="90" height="7"/>
<use href="#O" x="0"/><use href="#B" x="11"/><use href="#Y" x="24"/><use href="#B" x="36"/><use href="#Y" x="48"/><use href="#R" x="60"/><use href="#Y" x="71"/><use href="#B" x="83"/><use href="#Y" x="96"/><use href="#B" x="108"/><use href="#O" x="120"/><use href="#B" x="131"/><use href="#Y" x="143"/><use href="#B" x="156"/><use href="#Y" x="168"/><use href="#R" x="180"/><use href="#Y" x="191"/><use href="#B" x="203"/><use href="#Y" x="216"/><use href="#B" x="228"/>
<use href="#sO" x="240"/><use href="#sB" x="251"/><use href="#sY" x="263"/><use href="#sB" x="276"/><use href="#sY" x="288"/><use href="#sR" x="300"/><use href="#sY" x="311"/><use href="#sB" x="323"/><use href="#sY" x="336"/><use href="#sB" x="348"/><use href="#sO" x="360"/><use href="#sB" x="371"/><use href="#sY" x="383"/><use href="#sB" x="396"/><use href="#sY" x="408"/><use href="#sR" x="420"/><use href="#sY" x="434"/><use href="#sB" x="450"/>
<use href="#O" x="480"/><use href="#B" x="499"/><use href="#Y" x="519"/><use href="#R" x="540"/><use href="#B" x="559"/><use href="#Y" x="580"/><use href="#R" x="600"/><use href="#G" x="619"/><use href="#O" x="640"/><use href="#B" x="660"/><use href="#Y" x="679"/><use href="#R" x="700"/><use href="#B" x="720"/><use href="#Y" x="739"/><use href="#R" x="760"/><use href="#Y" x="780"/><use href="#R" x="799"/><use href="#G" x="820"/><use href="#G" x="840"/><use href="#Y" x="945"/>
<rect class="og" x="240" y="0" width="210" height="61"/><rect class="ob" x="0" y="0" width="424" height="61"/><rect class="op" x="424" y="0" width="11" height="61"/>
<text class="tp" x="1" y="-21">♩=140</text><text class="tp" x="241" y="-21">♩=140</text><text class="tp" x="481" y="-21">♩=140</text><text class="tp" x="721" y="-21">♩=140</text>
<text class="mn" x="1" y="-7">81</text><text class="mn" x="241" y="-7">82</text><text class="mn" x="481" y="-7">83</text><text class="mn" x="721" y="-7">84</text>
<text class="v" x="239" y="77">500</text><text class="s" x="239" y="90">146289</text><text class="p" x="239" y="103">0.00%</text>
<text class="v" x="479" y="77">450</text><text class="s" x="479" y="90">149789</text><text class="p" x="479" y="103">25.00%</text>
<text class="v" x="719" y="77">300</text><text class="s" x="719" y="90">150989</text><text class="p" x="719" y="103">25.00%</text>
<text class="v" x="959" y="77">218</text><text class="s" x="959" y="90">151861</text><text class="p" x="959" y="103">25.00%</text>
</g>

<g id="row21" transform="translate(31,3166)">
<rect class="gr" x="0" y="-10" width="960" height="81"/>
<use href="#grid4"/>
<rect class="fB" x="0" y="41.5" width="119.5" height="7"/><rect class="fB" x="240" y="41.5" width="105" height="7"/><rect class="fY" x="360" y="26.5" width="45" height="7"/><rect class="fY" x="480" y="26.5" width="45" height="7"/><rect class="fO" x="600" y="57.5" width="45" height="7"/><rect class="fG" x="840" y="-3.5" width="104" height="7"/>
<use href="#B" x="0"/><use href="#Y" x="135"/><use href="#B" x="150"/><use href="#Y" x="195"/><use href="#B" x="210"/><use href="#B" x="240"/><use href="#Y" x="360"/><use href="#G" x="420"/><use href="#G" x="450"/><use href="#R" x="465"/><use href="#Y" x="480"/><use href="#G" x="540"/><use href="#O" x="570"/><use href="#O" x="600"/><use href="#B" x="660"/><use href="#Y" x="675"/><use href="#R" x="690"/><use href="#Y" x="705"/><use href="#G" x="720"/><use href="#B" x="735"/><use href="#Y" x="750"/><use href="#R" x="765"/><use href="#Y" x="780"/><use href="#R" x="795"/><use href="#G" x="810"/><use href="#R" x="825"/><use href="#G" x="840"/>
<rect class="op" x="660" y="0" width="5" height="61"/><rect class="ob" x="665" y="0" width="295" height="61"/>
<text class="tp" x="1" y="-21">♩=140</text><text class="tp" x="481" y="-21">♩=140</text><text class="tp" x="721" y="-21">♩=140</text>
<text class="mn" x="1" y="-7">85</text><text class="mn" x="241" y="-7">86</text><text class="mn" x="481" y="-7">87</text><text class="mn" x="721" y="-7">88</text>
<text class="v" x="239" y="77">149</text><text class="s" x="239" y="90">152457</text><text class="p" x="239" y="103">25.00%</text>
<text class="v" x="479" y="77">155</text><text class="s" x="479" y="90">153077</text><text class="p" x="479" y="103">25.00%</text>
<text class="v" x="719" y="77">218</text><text class="s" x="719" y="90">154349</text><text class="p" x="719" y="103">22.21%</text>
<text class="v" x="959" y="77">246</text><text class="s" x="959" y="90">156317</text><text class="p" x="959" y="103">9.71%</text>
</g>

<g id="row22" transform="translate(31,3307)">
<rect class="gr" x="0" y="-10" width="960" height="81"/>
<use href="#grid4"/>
<rect class="fR" x="720" y="11.5" width="240" height="7"/>
<use href="#Y" x="0"/><use href="#R" x="10"/><use href="#G" x="24"/><use href="#R" x="36"/><use href="#Y" x="48"/><use href="#B" x="60"/><use href="#Y" x="70"/><use href="#R" x="79"/><use href="#G" x="90"/><use href="#R" x="97"/><use href="#Y" x="105"/><use href="#O" x="112"/><use href="#O" x="120"/><use href="#B" x="131"/><use href="#Y" x="143"/><use href="#B" x="156"/><use href="#O" x="168"/><use href="#R" x="180"/><use href="#G" x="191"/><use href="#R" x="202"/><use href="#Y" x="216"/><use href="#B" x="228"/><use href="#B" x="240"/><use href="#B" x="250"/><use href="#Y" x="259"/><use href="#R" x="270"/><use href="#B" x="280"/><use href="#R" x="300"/><use href="#G" x="311"/><use href="#R" x="323"/><use href="#R" x="336"/><use href="#Y" x="348"/><use href="#Y" x="360"/><use href="#R" x="371"/><use href="#G" x="383"/><use href="#Y" x="396"/><use href="#Y" x="420"/><use href="#Y" x="439"/><use href="#B" x="453"/><use href="#B" x="466"/><use href="#O" x="480"/><use href="#B" x="490"/><use href="#R" x="499"/><use href="#R" x="519"/><use href="#B" x="540"/><use href="#Y" x="559"/><use href="#R" x="580"/><use href="#G" x="600"/><use href="#R" x="619"/><use href="#Y" x="640"/><use href="#R" x="660"/><use href="#G" x="679"/><use href="#R" x="700"/><use href="#G" x="709"/><use href="#sR" x="720"/>
<rect class="ob" x="0" y="0" width="665" height="61"/><rect class="op" x="665" y="0" width="13" height="61"/><rect class="og" x="720" y="0" width="240" height="61"/>
<text class="tp" x="1" y="-21">♩=140</text><text class="tp" x="241" y="-21">♩=140</text><text class="tp" x="721" y="-21">♩=140</text>
<text class="mn" x="1" y="-7">89</text><text class="mn" x="241" y="-7">90</text><text class="mn" x="481" y="-7">91</text><text class="mn" x="721" y="-7">92</text>
<text class="v" x="239" y="77">550</text><text class="s" x="239" y="90">160717</text><text class="p" x="239" y="103">0.00%</text>
<text class="v" x="479" y="77">450</text><text class="s" x="479" y="90">164317</text><text class="p" x="479" y="103">0.00%</text>
<text class="v" x="719" y="77">350</text><text class="s" x="719" y="90">166917</text><text class="p" x="719" y="103">0.00%</text>
<text class="v" x="959" y="77">73</text><text class="s" x="959" y="90">167209</text><text class="p" x="959" y="103">38.60%</text>
</g>

<g id="row23" transform="translate(31,3448)">
<rect class="gr" x="0" y="-10" width="240" height="81"/>
<use href="#grid4"/>
<rect class="fR" x="0" y="11.5" width="44" height="7"/><rect class="fY" x="60" y="26.5" width="165" height="7"/><rect class="fR" x="360" y="11.5" width="45" height="7"/><rect class="fB" x="420" y="41.5" width="60" height="7"/><rect class="fR" x="840" y="11.5" width="45" height="7"/><rect class="fB" x="900" y="41.5" width="60" height="7"/>
<use href="#Y" x="60"/><use href="#B" x="240"/><use href="#Y" x="270"/><use href="#R" x="300"/><use href="#G" x="330"/><use href="#R" x="360"/><use href="#B" x="420"/><use href="#G" x="510"/><use href="#R" x="540"/><use href="#Y" x="570"/><use href="#B" x="600"/><use href="#Y" x="630"/><use href="#B" x="640"/><use href="#Y" x="649"/><use href="#R" x="660"/><use href="#G" x="690"/><use href="#B" x="720"/><use href="#Y" x="750"/><use href="#R" x="780"/><use href="#G" x="810"/><use href="#R" x="840"/><use href="#B" x="900"/>
<rect class="og" x="0" y="0" width="44" height="61"/>
<text class="tp" x="1" y="-21">♩=140</text><text class="tp" x="241" y="-21">♩=140</text><text class="tp" x="481" y="-21">♩=140</text><text class="tp" x="721" y="-21">♩=140</text>
<text class="mn" x="1" y="-7">93</text><text class="mn" x="241" y="-7">94</text><text class="mn" x="481" y="-7">95</text><text class="mn" x="721" y="-7">96</text>
<text class="v" x="239" y="77">67</text><text class="s" x="239" y="90">167477</text><text class="p" x="239" y="103">41.15%</text>
<text class="v" x="479" y="77">171</text><text class="s" x="479" y="90">191261</text><text class="p" x="479" y="103">41.15%</text>
<text class="v" x="719" y="77">225</text><text class="s" x="719" y="90">192161</text><text class="p" x="719" y="103">41.15%</text>
<text class="v" x="959" y="77">171</text><text class="s" x="959" y="90">192845</text><text class="p" x="959" y="103">41.15%</text>
</g>

<g id="row24" transform="translate(31,3589)">
<use href="#grid4"/>
<rect class="fR" x="360" y="11.5" width="45" height="7"/><rect class="fB" x="420" y="41.5" width="60" height="7"/>
<use href="#G" x="30"/><use href="#R" x="60"/><use href="#Y" x="90"/><use href="#B" x="120"/><use href="#Y" x="150"/><use href="#B" x="160"/><use href="#Y" x="169"/><use href="#R" x="180"/><use href="#G" x="210"/><use href="#B" x="240"/><use href="#Y" x="270"/><use href="#R" x="300"/><use href="#G" x="330"/><use href="#R" x="360"/><use href="#B" x="420"/><use href="#G" x="510"/><use href="#R" x="540"/><use href="#Y" x="570"/><use href="#B" x="600"/><use href="#Y" x="630"/><use href="#B" x="640"/><use href="#Y" x="649"/><use href="#R" x="660"/><use href="#G" x="690"/><use href="#B" x="720"/><use href="#Y" x="750"/><use href="#R" x="780"/><use href="#G" x="810"/><use href="#B" x="840"/><use href="#Y" x="870"/><use href="#R" x="900"/><use href="#G" x="930"/>
<text class="tp" x="1" y="-21">♩=140</text><text class="tp" x="241" y="-21">♩=140</text><text class="tp" x="481" y="-21">♩=140</text><text class="tp" x="721" y="-21">♩=140</text>
<text class="mn" x="1" y="-7">97</text><text class="mn" x="241" y="-7">98</text><text class="mn" x="481" y="-7">99</text><text class="mn" x="721" y="-7">100</text>
<text class="v" x="239" y="77">225</text><text class="s" x="239" y="90">193745</text><text class="p" x="239" y="103">41.15%</text>
<text class="v" x="479" y="77">171</text><text class="s" x="479" y="90">194429</text><text class="p" x="479" y="103">41.15%</text>
<text class="v" x="719" y="77">225</text><text class="s" x="719" y="90">195329</text><text class="p" x="719" y="103">41.15%</text>
<text class="v" x="959" y="77">200</text><text class="s" x="959" y="90">196129</text><text class="p" x="959" y="103">41.15%</text>
</g>

<g id="row25" transform="translate(31,3730)">
<rect class="yl" x="510" y="-10" width="180" height="81"/>
<use href="#grid4"/>
<rect class="fG" x="180" y="-3.5" width="45" height="7"/><rect class="fR" x="360" y="11.5" width="45" height="7"/><rect class="fB" x="420" y="41.5" width="60" height="7"/><rect class="fR" x="840" y="11.5" width="45" height="7"/><rect class="fB" x="900" y="41.5" width="60" height="7"/>
<use href="#B" x="0"/><use href="#Y" x="30"/><use href="#R" x="60"/><use href="#G" x="90"/><use href="#G" x="120"/><use href="#R" x="135"/><use href="#G" x="180"/><use href="#B" x="240"/><use href="#Y" x="270"/><use href="#R" x="300"/><use href="#G" x="330"/><use href="#R" x="360"/><use href="#B" x="420"/>
<use href="#sG" x="510"/><use href="#sR" x="540"/><use href="#sY" x="570"/><use href="#sB" x="600"/><use href="#sY" x="630"/><use href="#sB" x="640"/><use href="#sY" x="649"/><use href="#sR" x="660"/><use href="#sG" x="690"/>
<use href="#B" x="720"/><use href="#Y" x="750"/><use href="#R" x="780"/><use href="#G" x="810"/><use href="#R" x="840"/><use href="#B" x="900"/>
<rect class="og" x="510" y="0" width="180" height="61"/>
<text class="tp" x="1" y="-21">♩=140</text><text class="tp" x="241" y="-21">♩=140</text><text class="tp" x="481" y="-21">♩=140</text><text class="tp" x="721" y="-21">♩=140</text>
<text class="mn" x="1" y="-7">101</text><text class="mn" x="241" y="-7">102</text><text class="mn" x="481" y="-7">103</text><text class="mn" x="721" y="-7">104</text>
<text class="v" x="239" y="77">184</text><text class="s" x="239" y="90">196865</text><text class="p" x="239" y="103">41.15%</text>
<text class="v" x="479" y="77">171</text><text class="s" x="479" y="90">197549</text><text class="p" x="479" y="103">41.15%</text>
<text class="v" x="719" y="77">225</text><text class="s" x="719" y="90">198449</text><text class="p" x="719" y="103">66.15%</text>
<text class="v" x="959" y="77">171</text><text class="s" x="959" y="90">199133</text><text class="p" x="959" y="103">66.15%</text>
</g>

<g id="row26" transform="translate(31,3871)">
<use href="#grid4"/>
<rect class="fR" x="360" y="11.5" width="45" height="7"/><rect class="fB" x="420" y="41.5" width="60" height="7"/>
<use href="#G" x="30"/><use href="#R" x="60"/><use href="#Y" x="90"/><use href="#B" x="120"/><use href="#Y" x="150"/><use href="#B" x="160"/><use href="#Y" x="169"/><use href="#R" x="180"/><use href="#G" x="210"/><use href="#B" x="240"/><use href="#Y" x="270"/><use href="#R" x="300"/><use href="#G" x="330"/><use href="#R" x="360"/><use href="#B" x="420"/><use href="#G" x="510"/><use href="#R" x="540"/><use href="#Y" x="570"/><use href="#B" x="600"/><use href="#Y" x="630"/><use href="#B" x="640"/><use href="#Y" x="649"/><use href="#R" x="660"/><use href="#G" x="690"/><use href="#B" x="720"/><use href="#Y" x="750"/><use href="#R" x="780"/><use href="#G" x="810"/><use href="#B" x="840"/><use href="#Y" x="870"/><use href="#R" x="900"/><use href="#G" x="930"/>
<text class="tp" x="1" y="-21">♩=140</text><text class="tp" x="481" y="-21">♩=140</text><text class="tp" x="721" y="-21">♩=140</text>
<text class="mn" x="1" y="-7">105</text><text class="mn" x="241" y="-7">106</text><text class="mn" x="481" y="-7">107</text><text class="mn" x="721" y="-7">108</text>
<text class="v" x="239" y="77">225</text><text class="s" x="239" y="90">200033</text><text class="p" x="239" y="103">66.15%</text>
<text class="v" x="479" y="77">171</text><text class="s" x="479" y="90">200717</text><text class="p" x="479" y="103">66.15%</text>
<text class="v" x="719" y="77">225</text><text class="s" x="719" y="90">201617</text><text class="p" x="719" y="103">66.15%</text>
<text class="v" x="959" y="77">200</text><text class="s" x="959" y="90">202417</text><text class="p" x="959" y="103">66.15%</text>
</g>

<g id="row27" transform="translate(31,4012)">
<rect class="gr" x="240" y="-10" width="720" height="81"/>
<use href="#grid4"/>
<rect class="fR" x="240" y="11.5" width="135" height="7"/>
<use href="#B" x="0"/><use href="#Y" x="30"/><use href="#R" x="60"/><use href="#G" x="90"/><use href="#G" x="120"/><use href="#R" x="135"/><use href="#G" x="180"/><use href="#G" x="225"/><use href="#R" x="240"/><use href="#R" x="390"/><use href="#G" x="420"/><use href="#R" x="450"/><use href="#B" x="480"/><use href="#R" x="495"/><use href="#G" x="510"/><use href="#R" x="525"/><use href="#Y" x="540"/><use href="#R" x="555"/><use href="#G" x="570"/><use href="#R" x="585"/><use href="#B" x="600"/><use href="#R" x="615"/><use href="#G" x="630"/><use href="#R" x="645"/><use href="#Y" x="660"/><use href="#R" x="675"/><use href="#G" x="690"/><use href="#R" x="705"/><use href="#B" x="720"/><use href="#R" x="735"/><use href="#G" x="750"/><use href="#R" x="765"/><use href="#O" x="780"/><use href="#R" x="795"/><use href="#G" x="810"/><use href="#R" x="825"/><use href="#B" x="840"/><use href="#R" x="855"/><use href="#Y" x="870"/><use href="#R" x="885"/><use href="#Y" x="892"/><use href="#B" x="900"/><use href="#O" x="915"/><use href="#B" x="930"/><use href="#Y" x="937"/><use href="#R" x="945"/>
<rect class="op" x="539" y="0" width="3" height="61"/><rect class="ob" x="542" y="0" width="418" height="61"/>
<text class="tp" x="241" y="-21">♩=140</text><text class="tp" x="721" y="-21">♩=140</text>
<text class="mn" x="1" y="-7">109</text><text class="mn" x="241" y="-7">110</text><text class="mn" x="481" y="-7">111</text><text class="mn" x="721" y="-7">112</text>
<text class="v" x="239" y="77">200</text><text class="s" x="239" y="90">203217</text><text class="p" x="239" y="103">66.15%</text>
<text class="v" x="479" y="77">127</text><text class="s" x="479" y="90">203725</text><text class="p" x="479" y="103">66.15%</text>
<text class="v" x="719" y="77">400</text><text class="s" x="719" y="90">206525</text><text class="p" x="719" y="103">56.97%</text>
<text class="v" x="959" y="77">450</text><text class="s" x="959" y="90">210225</text><text class="p" x="959" y="103">44.47%</text>
</g>

<g id="row28" transform="translate(31,4153)">
<rect class="gr" x="0" y="-10" width="960" height="81"/>
<use href="#grid4"/>
<rect class="fY" x="240" y="26.5" width="60" height="7"/><rect class="fR" x="360" y="11.5" width="75" height="7"/><rect class="fO" x="720" y="57.5" width="135" height="7"/>
<use href="#G" x="0"/><use href="#R" x="10"/><use href="#Y" x="19"/><use href="#Y" x="30"/><use href="#B" x="40"/><use href="#O" x="49"/><use href="#B" x="60"/><use href="#Y" x="70"/><use href="#R" x="79"/><use href="#B" x="90"/><use href="#Y" x="105"/><use href="#R" x="120"/><use href="#G" x="139"/><use href="#R" x="160"/><use href="#Y" x="180"/><use href="#R" x="195"/><use href="#G" x="210"/><use href="#Y" x="240"/><use href="#R" x="315"/><use href="#G" x="330"/><use href="#R" x="360"/><use href="#G" x="450"/><use href="#R" x="480"/><use href="#G" x="499"/><use href="#R" x="520"/><use href="#Y" x="540"/><use href="#B" x="559"/><use href="#R" x="580"/><use href="#Y" x="600"/><use href="#B" x="619"/><use href="#Y" x="640"/><use href="#B" x="660"/><use href="#O" x="679"/><use href="#B" x="700"/><use href="#O" x="720"/><use href="#B" x="870"/><use href="#Y" x="915"/><use href="#G" x="946"/>
<rect class="ob" x="0" y="0" width="960" height="61"/>
<text class="tp" x="241" y="-21">♩=140</text><text class="tp" x="481" y="-21">♩=140</text><text class="tp" x="721" y="-21">♩=140</text>
<text class="mn" x="1" y="-7">113</text><text class="mn" x="241" y="-7">114</text><text class="mn" x="481" y="-7">115</text><text class="mn" x="721" y="-7">116</text>
<text class="v" x="239" y="77">425</text><text class="s" x="239" y="90">213525</text><text class="p" x="239" y="103">31.97%</text>
<text class="v" x="479" y="77">152</text><text class="s" x="479" y="90">214741</text><text class="p" x="479" y="103">19.47%</text>
<text class="v" x="719" y="77">300</text><text class="s" x="719" y="90">217141</text><text class="p" x="719" y="103">6.97%</text>
<text class="v" x="959" y="77">127</text><text class="s" x="959" y="90">218157</text><text class="p" x="959" y="103">0.00%</text>
</g>

<g id="row29" transform="translate(31,4294)">
<rect class="gr" x="0" y="-10" width="960" height="81"/>
<use href="#grid4"/>
<rect class="og" x="0" y="0" width="230" height="61"/><rect class="ob" x="0" y="0" width="960" height="61"/>
<text class="mn" x="1" y="-7">117</text><text class="mn" x="241" y="-7">118</text><text class="mn" x="481" y="-7">119</text><text class="mn" x="721" y="-7">120</text>
</g>
<g id="row30" transform="translate(31,4435)">
<rect class="gr" x="0" y="-10" width="960" height="81"/>
<use href="#grid4"/>
<rect class="ob" x="0" y="0" width="120" height="61"/><rect class="op" x="120" y="0" width="8" height="61"/>
<text class="mn" x="1" y="-7">121</text><text class="mn" x="241" y="-7">122</text><text class="mn" x="481" y="-7">123</text><text class="mn" x="721" y="-7">124</text>
</g>
<g id="row31" transform="translate(31,4576)">
<rect class="yl" x="504" y="-10" width="146" height="81"/>
<use href="#grid4"/>
<rect class="og" x="504" y="0" width="146" height="61"/>
<text class="mn" x="1" y="-7">125</text><text class="mn" x="241" y="-7">126</text><text class="mn" x="481" y="-7">127</text><text class="mn" x="721" y="-7">128</text>
</g>
<g id="row32" transform="translate(31,4717)">
<rect class="gr" x="0" y="-10" width="960" height="81"/>
<use href="#grid4"/>
<text class="mn" x="1" y="-7">129</text><text class="mn" x="241" y="-7">130</text><text class="mn" x="481" y="-7">131</text><text class="mn" x="721" y="-7">132</text>
</g>
<g id="row33" transform="translate(31,4858)">
<rect class="gr" x="0" y="-10" width="960" height="81"/>
<use href="#grid4"/>
<rect class="ob" x="714" y="0" width="246" height="61"/>
<text class="mn" x="1" y="-7">133</text><text class="mn" x="241" y="-7">134</text><text class="mn" x="481" y="-7">135</text><text class="mn" x="721" y="-7">136</text>
</g>
<g id="row34" transform="translate(31,4999)">
<rect class="gr" x="0" y="-10" width="960" height="81"/><rect class="yl" x="53" y="-10" width="145" height="81"/>
<use href="#grid4"/>
<rect class="og" x="53" y="0" width="145" height="61"/>
<text class="mn" x="1" y="-7">137</text><text class="mn" x="241" y="-7">138</text><text class="mn" x="481" y="-7">139</text><text class="mn" x="721" y="-7">140</text>
</g>
<g id="row35" transform="translate(31,5140)">
<rect class="gr" x="0" y="-10" width="960" height="81"/>
<use href="#grid4"/>
<rect class="ob" x="0" y="0" width="350" height="61"/>
<text class="mn" x="1" y="-7">141</text><text class="mn" x="241" y="-7">142</text><text class="mn" x="481" y="-7">143</text><text class="mn" x="721" y="-7">144</text>
</g>
<g id="row36" transform="translate(31,5281)">
<use href="#grid4"/>
<rect class="og" x="466" y="0" width="210" height="61"/>
<text class="mn" x="1" y="-7">145</text><text class="mn" x="241" y="-7">146</text><text class="mn" x="481" y="-7">147</text><text class="mn" x="721" y="-7">148</text>
</g>
<g id="row37" transform="translate(31,5422)">
<rect class="gr" x="0" y="-10" width="960" height="81"/>
<use href="#grid4"/>
<rect class="ob" x="360" y="0" width="600" height="61"/>
<text class="mn" x="1" y="-7">149</text><text class="mn" x="241" y="-7">150</text><text class="mn" x="481" y="-7">151</text><text class="mn" x="721" y="-7">152</text>
</g>

<g id="row38" transform="translate(31,5563)">
<use href="#grid4"/>
<rect class="fB" x="660" y="41.5" width="45" height="7"/>
<use href="#B" x="120"/><use href="#O" x="150"/><use href="#B" x="180"/><use href="#O" x="190"/><use href="#B" x="200"/><use href="#B" x="300"/><use href="#B" x="450"/><use href="#B" x="660"/><use href="#B" x="759"/>
<rect class="ob" x="0" y="0" width="190" height="61"/><rect class="op" x="190" y="0" width="10" height="61"/>
<text class="mn" x="1" y="-7">153</text><text class="mn" x="241" y="-7">154</text><text class="mn" x="481" y="-7">155</text><text class="mn" x="721" y="-7">156</text>
<text class="v" x="239" y="77">275</text><text class="s" x="239" y="90">298893</text><text class="p" x="239" y="103">0.00%</text>
<text class="v" x="479" y="77">200</text><text class="s" x="479" y="90">299693</text><text class="p" x="479" y="103">0.00%</text>
<text class="v" x="719" y="77">243</text><text class="s" x="719" y="90">300665</text><text class="p" x="719" y="103">0.00%</text>
<text class="v" x="959" y="77">256</text><text class="s" x="959" y="90">301689</text><text class="p" x="959" y="103">0.00%</text>
</g>

<g id="row39" transform="translate(31,5704)">
<use href="#grid4"/>
<rect class="fG" x="0" y="-3.5" width="960" height="7"/><rect class="fR" x="0" y="11.5" width="960" height="7"/><rect class="fY" x="0" y="26.5" width="960" height="7"/>
<text class="mn" x="1" y="-7">157</text><text class="mn" x="241" y="-7">158</text><text class="mn" x="481" y="-7">159</text><text class="mn" x="721" y="-7">160</text>
<text class="v" x="239" y="77">144</text><text class="s" x="239" y="90">302265</text><text class="p" x="239" y="103">0.00%</text>
<text class="v" x="479" y="77">144</text><text class="s" x="479" y="90">302841</text><text class="p" x="479" y="103">0.00%</text>
<text class="v" x="719" y="77">144</text><text class="s" x="719" y="90">303417</text><text class="p" x="719" y="103">0.00%</text>
<text class="v" x="959" y="77">144</text><text class="s" x="959" y="90">303993</text><text class="p" x="959" y="103">0.00%</text>
</g>

<g id="row40" transform="translate(31,5845)">
<use href="#grid2"/>
<rect class="fG" x="0" y="-3.5" width="398" height="7"/><rect class="fR" x="0" y="11.5" width="398" height="7"/><rect class="fY" x="0" y="26.5" width="398" height="7"/>
<text class="mn" x="1" y="-7">161</text><text class="mn" x="241" y="-7">162</text>
<text class="v" x="239" y="77">144</text><text class="s" x="239" y="90">304569</text><text class="p" x="239" y="103">0.00%</text>
<text class="v" x="479" y="77">96</text><text class="s" x="479" y="90">304953</text><text class="p" x="479" y="103">0.00%</text>
</g>
</g>
</svg>
